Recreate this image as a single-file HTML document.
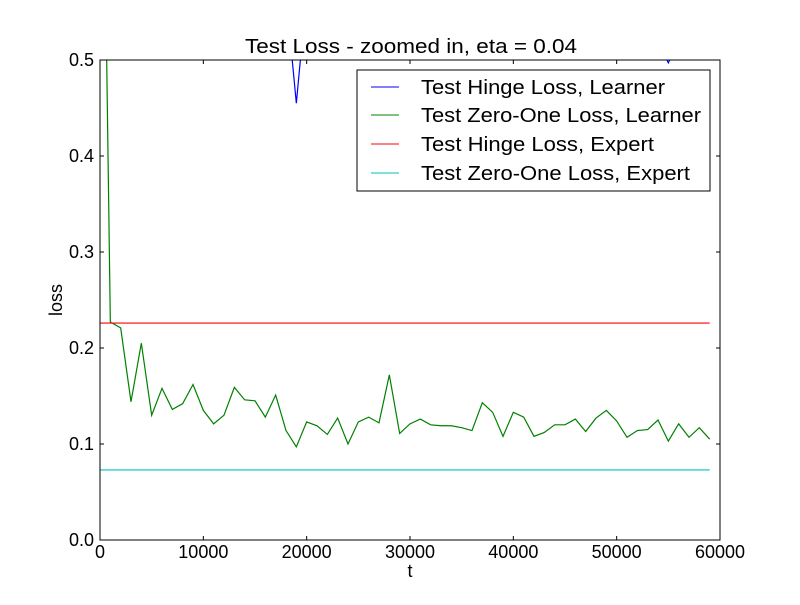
<!DOCTYPE html>
<html><head><meta charset="utf-8"><style>body{margin:0;background:#fff}svg text{font-family:"Liberation Sans",sans-serif}</style></head>
<body>
<svg id="chart" width="800" height="600" xmlns="http://www.w3.org/2000/svg">
<rect width="800" height="600" fill="#fff"/>
<defs><clipPath id="clip"><rect x="100" y="60" width="620" height="480"/></clipPath></defs>
<g id="series" clip-path="url(#clip)"></g>
<g id="axes"></g>
<text x="245" y="53" font-size="20" textLength="332" lengthAdjust="spacingAndGlyphs">Test Loss - zoomed in, eta = 0.04</text>
<text x="410" y="577" font-size="18" text-anchor="middle">t</text>
<text x="62" y="300" font-size="18" text-anchor="middle" transform="rotate(-90 62 300)">loss</text>
<g>
<rect x="357" y="70" width="353" height="121" fill="#fff" stroke="#000"/>
<line x1="371" y1="87" x2="399" y2="87" stroke="#0000ff"/><text x="421" y="94" font-size="20" textLength="244" lengthAdjust="spacingAndGlyphs">Test Hinge Loss, Learner</text>
<line x1="371" y1="115" x2="399" y2="115" stroke="#008000"/><text x="421" y="122" font-size="20" textLength="280" lengthAdjust="spacingAndGlyphs">Test Zero-One Loss, Learner</text>
<line x1="371" y1="144" x2="399" y2="144" stroke="#ff0000"/><text x="421" y="151" font-size="20" textLength="233" lengthAdjust="spacingAndGlyphs">Test Hinge Loss, Expert</text>
<line x1="371" y1="173" x2="399" y2="173" stroke="#00bfbf"/><text x="421" y="180" font-size="20" textLength="269" lengthAdjust="spacingAndGlyphs">Test Zero-One Loss, Expert</text>
</g>
</svg>
<script>
const xTicks=[0,10000,20000,30000,40000,50000,60000];
const yTicks=[0.0,0.1,0.2,0.3,0.4,0.5];
const zeroOneLearner=[1.0,0.227,0.221,0.144,0.205,0.130,0.158,0.136,0.142,0.162,0.135,0.121,0.130,0.159,0.146,0.145,0.128,0.151,0.114,0.097,0.123,0.119,0.110,0.127,0.100,0.123,0.128,0.122,0.172,0.111,0.121,0.126,0.120,0.119,0.119,0.117,0.114,0.143,0.133,0.108,0.133,0.128,0.108,0.112,0.120,0.120,0.126,0.113,0.127,0.135,0.124,0.107,0.114,0.115,0.125,0.103,0.121,0.107,0.117,0.105];
const hingeLearner=[2.0,1.0,0.8,0.7,0.65,0.62,0.6,0.6,0.6,0.6,0.6,0.6,0.6,0.6,0.6,0.6,0.6,0.6,0.568,0.455,0.57,0.6,0.6,0.6,0.6,0.6,0.6,0.6,0.6,0.6,0.6,0.6,0.6,0.6,0.6,0.6,0.6,0.6,0.6,0.6,0.6,0.6,0.6,0.6,0.6,0.6,0.6,0.6,0.6,0.6,0.6,0.6,0.6,0.6,0.52,0.497,0.52,0.6,0.6,0.6];
const hingeExpert=0.226;
const zeroOneExpert=0.073;
const step=1000;
const X=v=>100+v/60000*620, Y=v=>540-v/0.5*480;
const NS="http://www.w3.org/2000/svg";
const mk=(t,a,p)=>{const e=document.createElementNS(NS,t);for(const k in a)e.setAttribute(k,a[k]);p.appendChild(e);return e;};
const S=document.getElementById('series'), A=document.getElementById('axes');
function line(arr,col,name){const p=mk('polyline',{points:arr.map((v,i)=>X(i*step)+','+Y(v)).join(' '),fill:'none',stroke:col,'stroke-width':1.2},S);

}
line(hingeLearner,'#0000ff','hinge-learner-line');
line(zeroOneLearner,'#008000','zero-one-learner-line');
const n=zeroOneLearner.length-1;
let r=mk('line',{x1:X(0),x2:X(n*step),y1:Y(hingeExpert),y2:Y(hingeExpert),stroke:'#ff0000','stroke-width':1.2},S);


let c=mk('line',{x1:X(0),x2:X(n*step),y1:Y(zeroOneExpert),y2:Y(zeroOneExpert),stroke:'#00bfbf','stroke-width':1.2},S);


const fr=mk('rect',{x:100,y:60,width:620,height:480,fill:'none',stroke:'#000'},A);


xTicks.forEach(t=>{const x=X(t);mk('line',{x1:x,x2:x,y1:540,y2:536,stroke:'#000'},A);mk('line',{x1:x,x2:x,y1:60,y2:64,stroke:'#000'},A);
const tx=mk('text',{x:x,y:558,'font-size':18,'text-anchor':'middle'},A);tx.textContent=t;

});
yTicks.forEach(t=>{const y=Y(t);mk('line',{x1:100,x2:104,y1:y,y2:y,stroke:'#000'},A);mk('line',{x1:720,x2:716,y1:y,y2:y,stroke:'#000'},A);
const tx=mk('text',{x:94,y:y+6,'font-size':18,'text-anchor':'end'},A);tx.textContent=t.toFixed(1);

});
</script>
</body></html>
